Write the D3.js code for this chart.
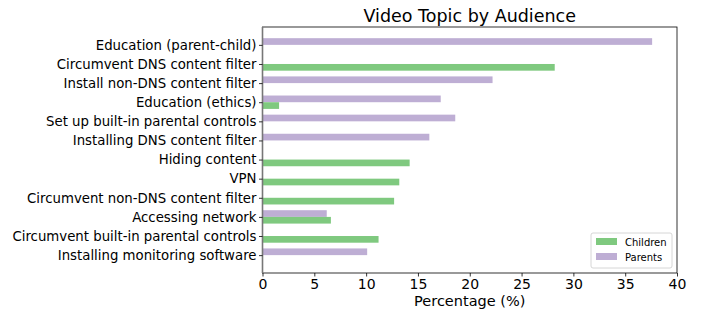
<!DOCTYPE html>
<html>
<head>
<meta charset="utf-8">
<script src="https://cdn.jsdelivr.net/npm/d3@7"></script>
<style>
  body { margin: 0; background: #fff; }
  .container { width: 707px; height: 312px; }
  text { font-family: "DejaVu Sans", sans-serif; fill: #000; }
</style>
</head>
<body>
<div class="container"></div>
<script>
// categories, top to bottom
const topics = [
  "Education (parent-child)",
  "Circumvent DNS content filter",
  "Install non-DNS content filter",
  "Education (ethics)",
  "Set up built-in parental controls",
  "Installing DNS content filter",
  "Hiding content",
  "VPN",
  "Circumvent non-DNS content filter",
  "Accessing network",
  "Circumvent built-in parental controls",
  "Installing monitoring software"
];
const parents  = [37.6, 0, 22.2, 17.2, 18.6, 16.1, 0, 0, 0, 6.2, 0, 10.1];
const children = [0, 28.2, 0, 1.6, 0, 0, 14.2, 13.2, 12.7, 6.6, 11.2, 0];
const xTicks = [0, 5, 10, 15, 20, 25, 30, 35, 40];

const green = "#7fc97f";
const purple = "#beaed4";
const barH = 0.35;

const width = 707, height = 312;
const plotL = 262.5, plotR = 677, plotT = 27, plotB = 273;

let svg = d3.select(".container").append("svg")
  .attr("width", width)
  .attr("height", height);

const x = d3.scaleLinear().domain([0, 40]).range([plotL, plotR]);
// matplotlib-ish margins around the bars
const pad = (topics.length - 1 + 2 * barH) * 0.05 + barH;
const y = d3.scaleLinear().domain([-pad, topics.length - 1 + pad]).range([plotT, plotB]);

let g = svg.append("g");

// parents bars (upper half of each slot)
g.selectAll("rect.parents")
  .data(parents)
  .enter()
  .append("rect")
  .attr("class", "parents")
  .attr("x", x(0))
  .attr("y", (d, i) => y(i - barH))
  .attr("width", d => x(d) - x(0))
  .attr("height", y(barH) - y(0))
  .attr("fill", purple);

// children bars (lower half)
g.selectAll("rect.children")
  .data(children)
  .enter()
  .append("rect")
  .attr("class", "children")
  .attr("x", x(0))
  .attr("y", (d, i) => y(i))
  .attr("width", d => x(d) - x(0))
  .attr("height", y(barH) - y(0))
  .attr("fill", green);

// frame
svg.append("rect")
  .attr("x", plotL).attr("y", plotT)
  .attr("width", plotR - plotL).attr("height", plotB - plotT)
  .attr("fill", "none").attr("stroke", "#000").attr("stroke-width", 0.8);
svg.append("line")
  .attr("x1", plotL).attr("x2", plotL).attr("y1", plotT).attr("y2", plotB)
  .attr("stroke", "#777").attr("stroke-width", 1.6);

// x axis
let xAxis = svg.append("g")
  .attr("transform", `translate(0,${plotB})`)
  .call(d3.axisBottom(x).tickValues(xTicks).tickSize(3.5).tickPadding(3));
xAxis.select(".domain").remove();
xAxis.selectAll("text").style("font-size", "14px").style("font-family", "DejaVu Sans");
xAxis.selectAll("line").attr("stroke-width", 0.8);

// y axis
let yAxis = svg.append("g")
  .attr("transform", `translate(${plotL},0)`)
  .call(d3.axisLeft(y).tickValues(d3.range(topics.length))
    .tickFormat(i => topics[i]).tickSize(3.5).tickPadding(2.5));
yAxis.select(".domain").remove();
yAxis.selectAll("text").style("font-size", "13.3px").style("font-family", "DejaVu Sans");
yAxis.selectAll("line").attr("stroke-width", 0.8);

// labels
svg.append("text")
  .attr("x", (plotL + plotR) / 2).attr("y", 306)
  .attr("text-anchor", "middle")
  .style("font-size", "14.5px")
  .text("Percentage (%)");

svg.append("text")
  .attr("x", (plotL + plotR) / 2).attr("y", 22)
  .attr("text-anchor", "middle")
  .style("font-size", "17.5px")
  .text("Video Topic by Audience");

// legend
const legend = [["Children", green], ["Parents", purple]];
let lg = svg.append("g").attr("transform", `translate(${plotR - 86},${plotB - 40})`);
lg.append("rect")
  .attr("width", 81).attr("height", 35).attr("rx", 2)
  .attr("fill", "#fff").attr("stroke", "#ccc").attr("stroke-width", 0.8);
legend.forEach((d, i) => {
  lg.append("rect")
    .attr("x", 5).attr("y", 5 + i * 15)
    .attr("width", 21).attr("height", 7)
    .attr("fill", d[1]);
  lg.append("text")
    .attr("x", 34).attr("y", 12.5 + i * 15)
    .style("font-size", "10px")
    .text(d[0]);
});
</script>
</body>
</html>
